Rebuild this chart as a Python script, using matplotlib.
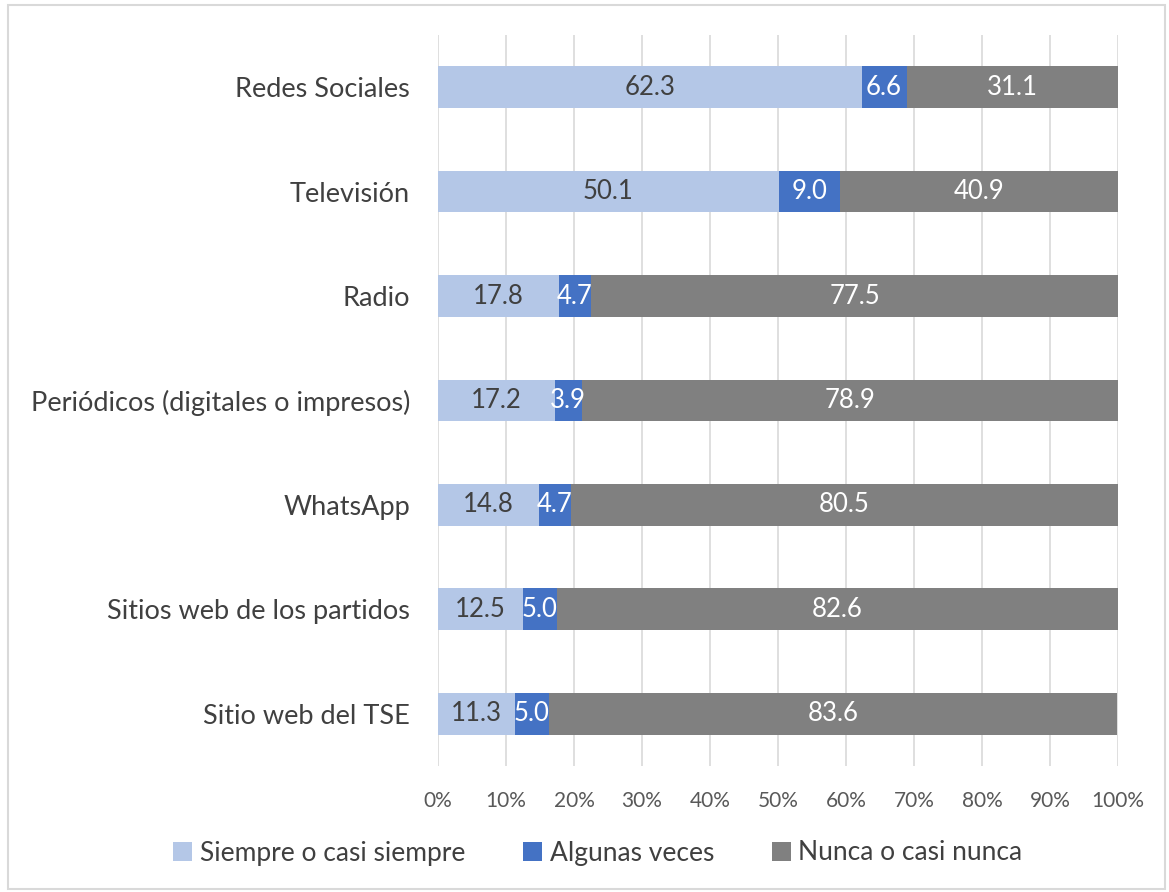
import matplotlib.pyplot as plt
from matplotlib.patches import Rectangle

# 数据：每类媒介的使用频率（百分比）
categories = ['Redes Sociales', 'Televisión', 'Radio',
              'Periódicos (digitales o impresos)', 'WhatsApp',
              'Sitios web de los partidos', 'Sitio web del TSE']
siempre = [62.3, 50.1, 17.8, 17.2, 14.8, 12.5, 11.3]
algunas = [6.6, 9.0, 4.7, 3.9, 4.7, 5.0, 5.0]
nunca = [31.1, 40.9, 77.5, 78.9, 80.5, 82.6, 83.6]
series_names = ['Siempre o casi siempre', 'Algunas veces', 'Nunca o casi nunca']

plt.rcParams['font.family'] = ['Lato', 'DejaVu Sans']

fig = plt.figure(figsize=(11.69, 8.92), dpi=100)
ax = fig.add_axes([0.3747, 0.1413, 0.5817, 0.8195])

# 图表外框
fig.patches.append(Rectangle((0.007, 0.003), 0.99, 0.991, transform=fig.transFigure,
                             fill=False, edgecolor='#D9D9D9', linewidth=1.5))

y = list(range(len(categories)))
colors = ['#B4C7E7', '#4472C4', '#808080']
text_colors = ['#404040', 'white', 'white']
left = [0.0] * len(categories)
for vals, name, c, tc in zip([siempre, algunas, nunca], series_names, colors, text_colors):
    bars = ax.barh(y, vals, left=left, height=0.4, color=c, label=name, zorder=3)
    ax.bar_label(bars, labels=['%.1f' % v for v in vals], label_type='center',
                 color=tc, fontsize=18.5, zorder=4)
    left = [l + v for l, v in zip(left, vals)]

ax.set_xlim(0, 100)
ax.set_ylim(len(categories) - 0.5, -0.5)
ax.set_xticks(range(0, 101, 10))
ax.set_xticklabels(['%d%%' % t for t in range(0, 101, 10)], color='#595959', fontsize=15)
ax.set_yticks(y)
ax.set_yticklabels(categories, color='#404040', fontsize=19.5)
ax.tick_params(axis='y', length=0, pad=20)
ax.tick_params(axis='x', length=0, pad=18)
ax.grid(axis='x', color='#D9D9D9', linewidth=1.2, zorder=0)
for s in ax.spines.values():
    s.set_visible(False)

fig.legend(*ax.get_legend_handles_labels(), loc='center',
           bbox_to_anchor=(598 / 1169, 1 - 853 / 892), ncol=3, frameon=False,
           fontsize=19, handlelength=0.7, handleheight=0.7, handletextpad=0.3,
           columnspacing=2.2, labelcolor='#404040')

fig.savefig('out.png', dpi=100)
